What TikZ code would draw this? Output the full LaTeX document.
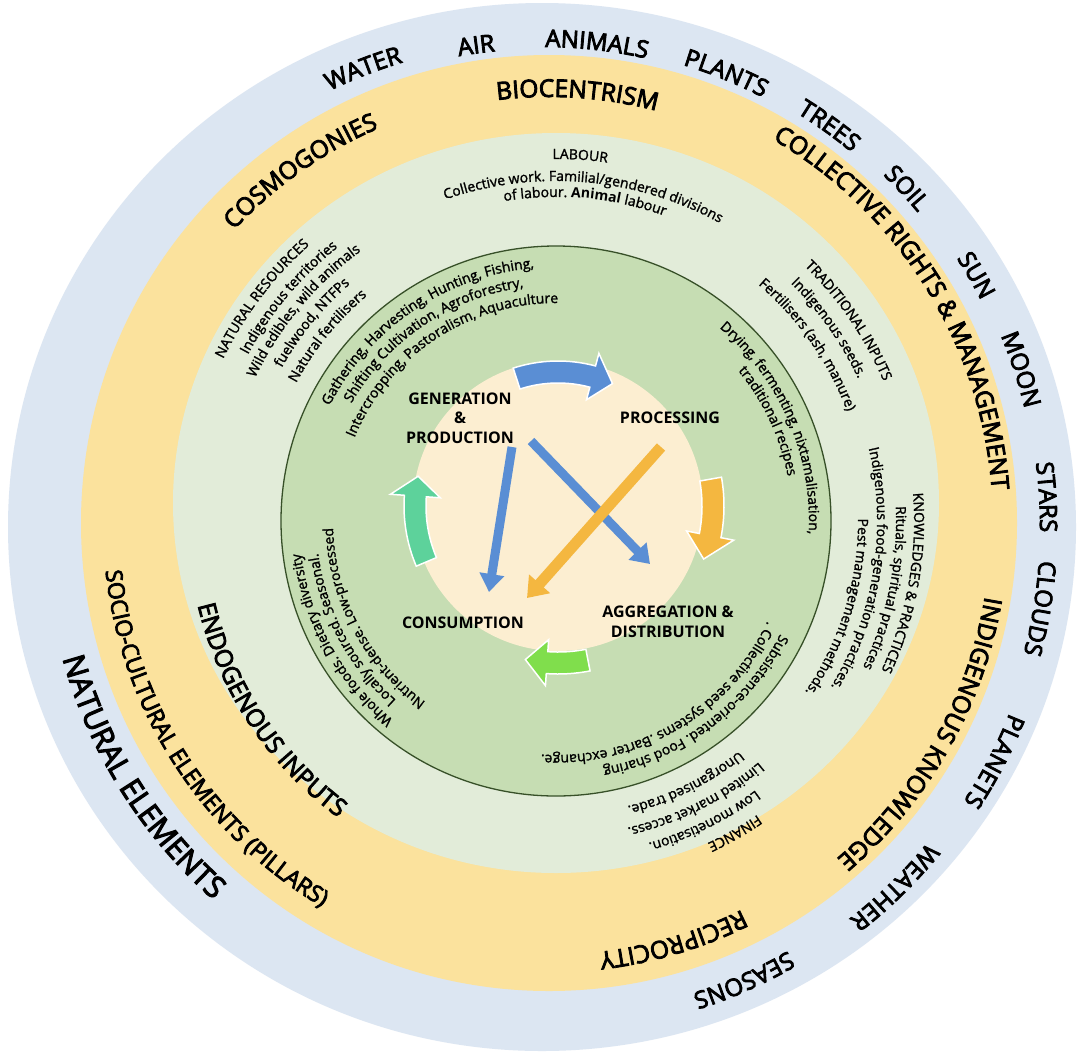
\documentclass[tikz,border=0pt]{standalone}
\usepackage{fontspec}
\setmainfont{Open Sans}
\newfontface\semib{Open Sans}[FakeBold=3.5]
\newfontface\medw{Open Sans}[FakeBold=1.5]
\usetikzlibrary{decorations.text,arrows.meta}
\definecolor{ringblue}{RGB}{220,230,242}
\definecolor{ringyellow}{RGB}{251,226,157}
\definecolor{ringlight}{RGB}{226,236,217}
\definecolor{ringdark}{RGB}{198,221,179}
\definecolor{edgegreen}{RGB}{55,80,40}
\definecolor{corebeige}{RGB}{252,238,209}
\definecolor{arblue}{RGB}{90,142,212}
\definecolor{arorange}{RGB}{244,183,64}
\definecolor{arlime}{RGB}{128,222,76}
\definecolor{arteal}{RGB}{93,210,155}
\newcommand\fOut{\fontsize{24}{28}\selectfont\semib}
\newcommand\fBig{\fontsize{30}{34}\selectfont\semib}
\newcommand\fYel{\fontsize{24.5}{28}\selectfont\semib}
\newcommand\fSoc{\fontsize{23}{27}\selectfont\semib}
\newcommand\fIn{\fontsize{14}{16}\selectfont\medw}
\newcommand\fInBold{\fontsize{14}{16}\selectfont\normalfont\bfseries}
\newcommand\fCore{\fontsize{16}{19.5}\selectfont\bfseries}
% clockwise text (tops outward): center, baseline radius, mid angle, font, text
\newcommand\cwtext[5]{\path[decorate,decoration={text along path,text align=center,text={|#4|#5}}] (#1) ++({#3+80}:#2) arc[start angle={#3+80},end angle={#3-80},radius=#2];}
% counter-clockwise text (tops inward)
\newcommand\ccwtext[5]{\path[decorate,decoration={text along path,text align=center,text={|#4|#5}}] (#1) ++({#3-80}:#2) arc[start angle={#3-80},end angle={#3+80},radius=#2];}
% curved block arrow: center, r, start angle, head-base angle, tip angle, half width, head half width, style
\newcommand\curvarrow[8]{\begin{scope}[shift={(#1)}]\path[#8] ({#3}:{#2+#6}) arc[start angle=#3,end angle=#4,radius={#2+#6}] -- ({#4}:{#2+#7}) -- ({#5}:{#2}) -- ({#4}:{#2-#7}) -- ({#4}:{#2-#6}) arc[start angle=#4,end angle=#3,radius={#2-#6}] -- cycle;\end{scope}}
\tikzset{
  corelab/.style={font=\fCore,align=center,inner sep=0pt},
  blockarrow/.style={draw=white,line width=1.5pt,line join=miter},
  straightarrow/.style={line width=9pt,-{Triangle[width=24pt,length=18pt]}},
}
\begin{document}
\begin{tikzpicture}[x=1pt,y=1pt]
\useasboundingbox (0,0) rectangle (1079,-1053);
\fill[white] (0,0) rectangle (1079,-1053);
% rings
\fill[ringblue] (542,-527) ellipse [x radius=534, y radius=524];
\fill[ringyellow] (549,-523) circle [radius=468];
\fill[ringlight] (556,-503) ellipse [x radius=383, y radius=370];
\filldraw[fill=ringdark,draw=edgegreen,line width=1.3pt] (556,-521) circle [radius=275];
\fill[corebeige] (558,-506) circle [radius=145];
\coordinate (cB) at (542,-527);
\coordinate (cY) at (549,-523);
\coordinate (cG) at (556,-521);
\coordinate (cC) at (558,-506);
% outer ring: natural elements
\cwtext{cB}{485}{111.3}{\fOut}{WATER}
\cwtext{cB}{478}{97.8}{\fOut}{AIR}
\cwtext{cB}{480}{83.5}{\fOut}{ANIMALS}
\cwtext{cB}{483}{67.9}{\fOut}{PLANTS}
\cwtext{cB}{486}{54.4}{\fOut}{TREES}
\cwtext{cB}{490}{42.9}{\fOut}{SOIL}
\cwtext{cB}{494}{30.1}{\fOut}{SUN}
\cwtext{cB}{497}{18.2}{\fOut}{MOON}
\cwtext{cB}{498}{3.4}{\fOut}{STARS}
\cwtext{cB}{498}{-9.3}{\fOut}{CLOUDS}
\cwtext{cB}{503}{-27.4}{\fOut}{PLANETS}
\cwtext{cB}{498}{-45.6}{\fOut}{WEATHER}
\cwtext{cB}{490}{-66}{\fOut}{SEASONS}
\ccwtext{cB}{497}{212}{\fBig}{NATURAL ELEMENTS}
% yellow ring: socio-cultural pillars
\cwtext{cY}{430}{125.2}{\fYel}{COSMOGONIES}
\cwtext{cY}{426}{86.2}{\fYel}{BIOCENTRISM}
\cwtext{cY}{444}{32}{\fYel}{COLLECTIVE RIGHTS {\&} MANAGEMENT}
\cwtext{cY}{442}{-29.5}{\fYel}{INDIGENOUS KNOWLEDGE}
\cwtext{cY}{432}{-73.4}{\fYel}{RECIPROCITY}
\ccwtext{cY}{446}{212.8}{\fSoc}{SOCIO-CULTURAL ELEMENTS (PILLARS)}
% light green ring: endogenous inputs
\ccwtext{cG}{368}{213.5}{\fYel}{ENDOGENOUS INPUTS}
\cwtext{cG}{362}{86.2}{\fIn}{LABOUR}
\cwtext{cG}{340}{85.1}{\fIn}{Collective work. Familial/gendered divisions}
\cwtext{cG}{324}{84.8}{\fIn}{of labour. |\fInBold|Animal|\fIn| labour}
\cwtext{cG}{370}{142.9}{\fIn}{NATURAL RESOURCES}
\cwtext{cG}{350}{140.1}{\fIn}{Indigenous territories}
\cwtext{cG}{333}{140.2}{\fIn}{Wild edibles, wild animals}
\cwtext{cG}{314}{140.9}{\fIn}{fuelwood, NTFPs}
\cwtext{cG}{294}{141}{\fIn}{Natural fertilisers}
\cwtext{cG}{356}{34.4}{\fIn}{TRADITIONAL INPUTS}
\cwtext{cG}{334}{35.3}{\fIn}{Indigenous seeds.}
\cwtext{cG}{311}{35}{\fIn}{Fertilisers (ash, manure)}
\cwtext{cG}{358}{-10.1}{\fIn}{KNOWLEDGES {\&} PRACTICES}
\cwtext{cG}{340}{-11.5}{\fIn}{Rituals, spiritual practices}
\cwtext{cG}{321}{-9}{\fIn}{Indigenous food-generation practices.}
\cwtext{cG}{302}{-17}{\fIn}{Pest management methods.}
\cwtext{cG}{356}{-60.2}{\fIn}{FINANCE}
\cwtext{cG}{335}{-63.7}{\fIn}{Low monetisation.}
\cwtext{cG}{315}{-63.4}{\fIn}{Limited market access.}
\cwtext{cG}{294}{-63.7}{\fIn}{Unorganised trade.}
% dark green ring: activities
\cwtext{cG}{254}{124}{\fIn}{Gathering, Harvesting, Hunting, Fishing,}
\cwtext{cG}{236}{124}{\fIn}{Shifting Cultivation, Agroforestry,}
\cwtext{cG}{218}{123.5}{\fIn}{Intercropping, Pastoralism, Aquaculture}
\cwtext{cG}{253}{23.4}{\fIn}{Drying, fermenting, nixtamalisation,}
\cwtext{cG}{236}{25.2}{\fIn}{traditional recipes}
\cwtext{cG}{257}{209}{\fIn}{Whole foods. Dietary diversity}
\cwtext{cG}{240}{208}{\fIn}{Locally sourced. Seasonal.}
\cwtext{cG}{223}{208}{\fIn}{Nutrient-dense. Low-processed}
\cwtext{cG}{251}{-53}{\fIn}{Subsistence-oriented. Food sharing}
\cwtext{cG}{234}{-59.5}{\fIn}{. Collective seed systems .Barter exchange.}
% core cycle arrows
\curvarrow{cC}{134}{108}{75}{66}{11}{24}{fill=arblue,blockarrow}
\curvarrow{cC}{155}{10}{-11}{-20}{11}{24}{fill=arorange,blockarrow}
\curvarrow{cC}{157}{-79}{-94}{-102}{11}{23}{fill=arlime,blockarrow}
\curvarrow{cC}{143}{203}{176}{168}{11}{25}{fill=arteal,blockarrow}
% core labels
\node[corelab] (gen) at (460,-418) {GENERATION\\\&\\PRODUCTION};
\node[corelab] (proc) at (670,-418) {PROCESSING};
\node[corelab] (cons) at (463,-623) {CONSUMPTION};
\node[corelab] (aggr) at (668,-622) {AGGREGATION \&\\DISTRIBUTION};
\coordinate (genA) at (512,-447);
\coordinate (consA) at (489,-592);
\coordinate (genB) at (531,-441);
\coordinate (aggrB) at (650,-564);
\coordinate (procC) at (661,-447);
\coordinate (consC) at (527,-598);
\draw[straightarrow,arblue] (genA) -- (consA);
\draw[straightarrow,arblue] (genB) -- (aggrB);
\draw[straightarrow,arorange,line width=11pt,-{Triangle[width=27pt,length=19pt]}] (procC) -- (consC);
\end{tikzpicture}
\end{document}
